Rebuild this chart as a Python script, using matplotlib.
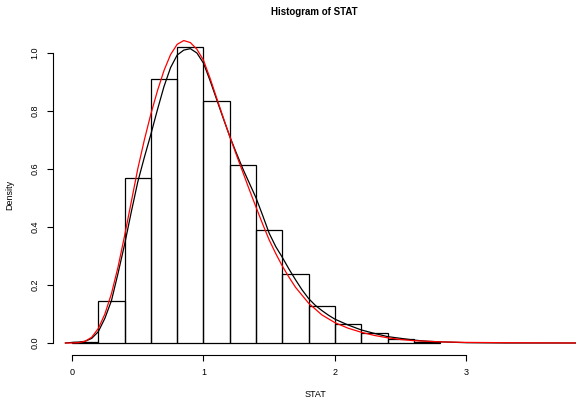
import matplotlib
matplotlib.use("Agg")
import matplotlib.pyplot as plt
import numpy as np

plt.rcParams["font.family"] = ["Liberation Sans", "DejaVu Sans"]

# histogram of STAT (density scale, bin width 0.2)
bin_edges = [0.0, 0.2, 0.4, 0.6, 0.8, 1.0, 1.2, 1.4, 1.6, 1.8, 2.0, 2.2, 2.4, 2.6, 2.8]
bin_density = [0.003, 0.146, 0.568, 0.909, 1.022, 0.834, 0.615, 0.390, 0.239,
               0.129, 0.064, 0.036, 0.015, 0.004]

# kernel density estimate (black)
kde_x = [-0.05, 0.0, 0.05, 0.1, 0.15, 0.2, 0.25, 0.3, 0.35, 0.4, 0.45, 0.5, 0.55,
         0.6, 0.65, 0.7, 0.75, 0.8, 0.85, 0.9, 0.95, 1.0, 1.05, 1.1, 1.15, 1.2,
         1.25, 1.3, 1.35, 1.4, 1.45, 1.5, 1.55, 1.6, 1.65, 1.7, 1.75, 1.8, 1.85,
         1.9, 1.95, 2.0, 2.1, 2.2, 2.3, 2.4, 2.5, 2.6, 2.7, 2.8, 3.0, 3.3, 3.84]
kde_y = [0.0, 0.002, 0.003, 0.006, 0.016, 0.039, 0.085, 0.146, 0.24, 0.34, 0.45,
         0.555, 0.64, 0.72, 0.805, 0.885, 0.95, 0.993, 1.01, 1.015, 1.0, 0.965,
         0.905, 0.84, 0.775, 0.712, 0.655, 0.60, 0.55, 0.50, 0.44, 0.378, 0.332,
         0.295, 0.255, 0.218, 0.183, 0.153, 0.13, 0.112, 0.096, 0.082, 0.062,
         0.045, 0.033, 0.022, 0.016, 0.010, 0.006, 0.004, 0.001, 0.0, 0.0]

# fitted density (red)
fit_x = [-0.05, 0.0, 0.05, 0.1, 0.15, 0.2, 0.25, 0.3, 0.35, 0.4, 0.45, 0.5, 0.55,
         0.6, 0.65, 0.7, 0.75, 0.8, 0.85, 0.9, 0.95, 1.0, 1.05, 1.1, 1.15, 1.2,
         1.25, 1.3, 1.35, 1.4, 1.45, 1.5, 1.55, 1.6, 1.65, 1.7, 1.8, 1.9, 2.0,
         2.1, 2.2, 2.3, 2.4, 2.5, 2.6, 2.7, 2.8, 3.0, 3.3, 3.84]
fit_y = [0.0, 0.0, 0.001, 0.006, 0.02, 0.05, 0.1, 0.17, 0.262, 0.37, 0.485, 0.60,
         0.70, 0.79, 0.87, 0.94, 0.995, 1.03, 1.043, 1.036, 1.013, 0.975, 0.913,
         0.845, 0.778, 0.712, 0.649, 0.588, 0.527, 0.468, 0.41, 0.355, 0.308,
         0.265, 0.227, 0.192, 0.137, 0.097, 0.070, 0.051, 0.037, 0.026, 0.018,
         0.012, 0.008, 0.006, 0.004, 0.002, 0.001, 0.0]

fig = plt.figure(figsize=(5.76, 4.0), dpi=100)
ax = fig.add_axes([53 / 576, 45 / 400, 1 - 53 / 576, 322 / 400])

widths = np.diff(bin_edges)
ax.bar(bin_edges[:-1], bin_density, width=widths, align="edge",
       fill=False, edgecolor="black", linewidth=0.9)
ax.plot(kde_x, kde_y, color="black", linewidth=0.9)
ax.plot(fit_x, fit_y, color="red", linewidth=0.9)

ax.set_xlim(-0.1445, 3.833)
ax.set_ylim(-0.0414, 1.069)

for side in ("top", "right"):
    ax.spines[side].set_visible(False)
ax.spines["left"].set_bounds(0, 1)
ax.spines["bottom"].set_bounds(0, 3)
ax.spines["left"].set_linewidth(0.8)
ax.spines["bottom"].set_linewidth(0.8)

ax.set_xticks([0, 1, 2, 3])
ax.set_xticklabels(["0", "1", "2", "3"])
ax.set_yticks([0.0, 0.2, 0.4, 0.6, 0.8, 1.0])
ax.set_yticklabels(["0.0", "0.2", "0.4", "0.6", "0.8", "1.0"], rotation=90, va="center")
ax.tick_params(axis="both", length=4.5, width=0.8, labelsize=6.5, pad=5)

ax.set_xlabel("STAT", fontsize=6.5)
ax.xaxis.set_label_coords((315 - 53) / 523, -(390 - 355) / 322)
ax.set_ylabel("Density", fontsize=6.5)
ax.yaxis.set_label_coords(-(53 - 14) / 523, (355 - 195) / 322)

fig.text(314 / 576, 1 - 12 / 400, "Histogram of STAT", ha="center", va="center",
         fontsize=7, fontweight="bold")

fig.savefig("out.png", dpi=100)
